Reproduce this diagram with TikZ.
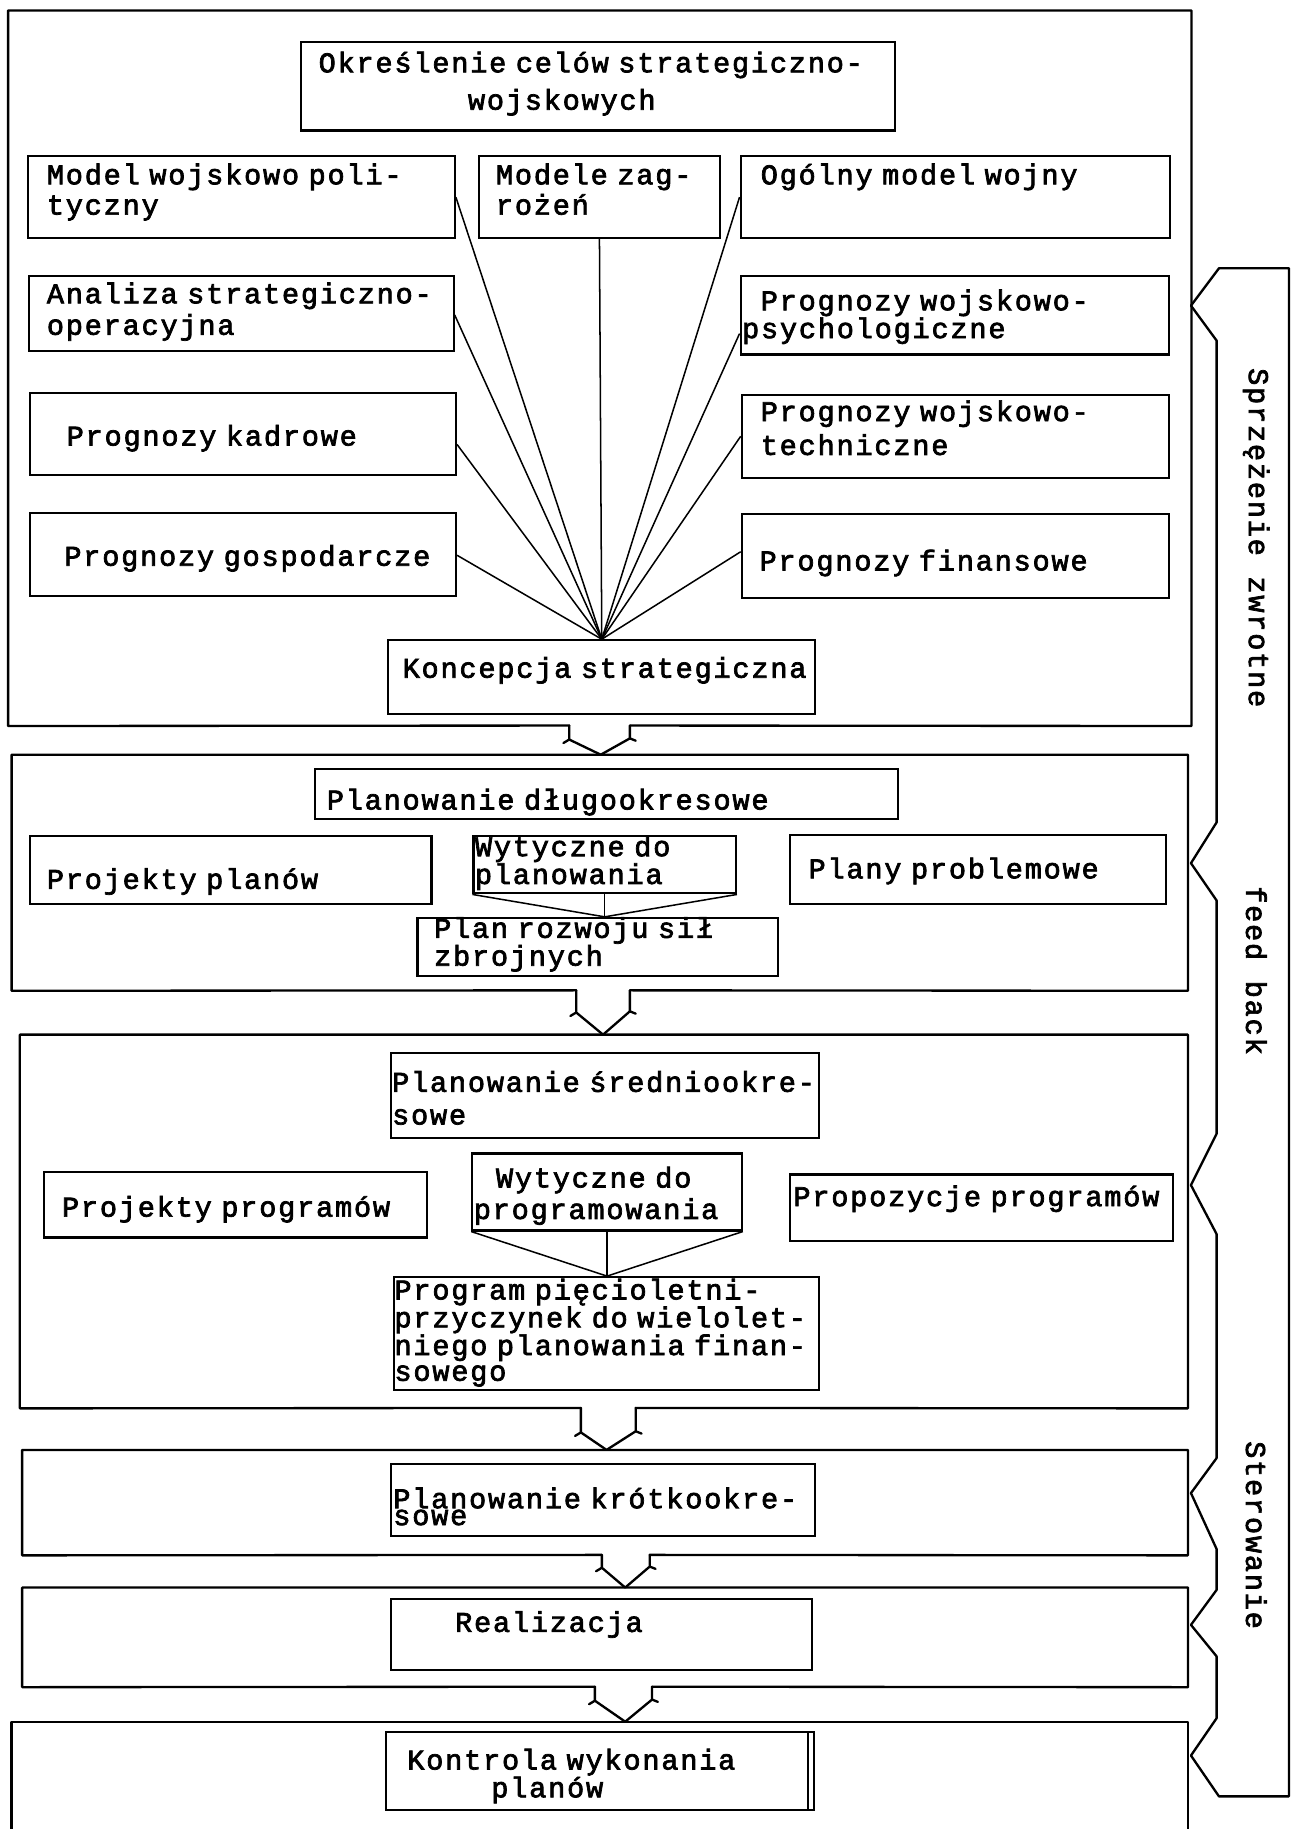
\documentclass[tikz,border=0pt]{standalone}
\usepackage{fontspec}
\newfontfamily\twf{Liberation Mono}[LetterSpace=6.3,FakeBold=2.5]
\newcommand\tw[1]{\fontsize{24.5}{#1}\twf\spaceskip=17.6pt\xspaceskip=17.6pt\relax}
\usetikzlibrary{calc}
\begin{document}
\begin{tikzpicture}[x=1pt,y=-1pt,
  box/.style={draw, line width=1.8pt, inner sep=0pt, anchor=north west},
  sect/.style={draw=none, inner sep=0pt, anchor=north west},
  frame/.style={line width=2pt, line join=round, line cap=round},
  fan/.style={line width=1.3pt},
  txt/.style={inner sep=0pt, anchor=base west, text width=700pt, align=left, font=\tw{28}},
  rot/.style={inner sep=0pt, rotate=-90, font=\tw{28}}]
\useasboundingbox (0,0) rectangle (1110,1568);

% ---------- sections ----------
\node[sect, minimum width=1014pt, minimum height=613pt] (sec1) at (7,9) {};
\node[sect, minimum width=1008pt, minimum height=202pt] (sec2) at (10,647) {};
\node[sect, minimum width=1001pt, minimum height=320pt] (sec3) at (17,887) {};
\node[sect, minimum width=999pt, minimum height=90pt] (sec4) at (19,1243) {};
\node[sect, minimum width=999pt, minimum height=85pt] (sec5) at (19,1361) {};
\node[sect, minimum width=1008pt, minimum height=94pt] (sec6) at (10,1476) {};

% arrow coordinates
\coordinate (a1L) at (488,622); \coordinate (a1R) at (540,622); \coordinate (a1T) at (515,647);
\coordinate (a2L) at (494,849); \coordinate (a2R) at (540,849); \coordinate (a2T) at (517,887);
\coordinate (a3L) at (498,1207); \coordinate (a3R) at (545,1207); \coordinate (a3T) at (520,1243);
\coordinate (a4L) at (516,1333); \coordinate (a4R) at (557,1333); \coordinate (a4T) at (536,1361);
\coordinate (a5L) at (510,1446); \coordinate (a5R) at (559,1446); \coordinate (a5T) at (536,1476);

% frames (bottom opened where the arrow leaves)
\draw[frame] (a1L) -- (sec1.south west) -- (sec1.north west) -- (sec1.north east) -- (sec1.south east) -- (a1R);
\draw[frame] (a2L) -- (sec2.south west) -- (sec2.north west) -- (sec2.north east) -- (sec2.south east) -- (a2R);
\draw[frame] (a3L) -- (sec3.south west) -- (sec3.north west) -- (sec3.north east) -- (sec3.south east) -- (a3R);
\draw[frame] (a4L) -- (sec4.south west) -- (sec4.north west) -- (sec4.north east) -- (sec4.south east) -- (a4R);
\draw[frame] (a5L) -- (sec5.south west) -- (sec5.north west) -- (sec5.north east) -- (sec5.south east) -- (a5R);
\draw[frame] (sec6.south west) -- (sec6.north west) -- (sec6.north east) -- (sec6.south east);

% hollow arrows between the sections
\draw[frame] (a1L) -- ++(0,12) coordinate (a1l) -- ++(-5,3) (a1l) -- (a1T) -- ($(a1R)+(0,11)$) coordinate (a1r) -- (a1R) (a1r) -- ++(5,2);
\draw[frame] (a2L) -- ++(0,19) coordinate (a2l) -- ++(-5,3) (a2l) -- (a2T) -- ($(a2R)+(0,18)$) coordinate (a2r) -- (a2R) (a2r) -- ++(5,2);
\draw[frame] (a3L) -- ++(0,21) coordinate (a3l) -- ++(-5,3) (a3l) -- (a3T) -- ($(a3R)+(0,20)$) coordinate (a3r) -- (a3R) (a3r) -- ++(5,2);
\draw[frame] (a4L) -- ++(0,11) coordinate (a4l) -- ++(-5,3) (a4l) -- (a4T) -- ($(a4R)+(0,10)$) coordinate (a4r) -- (a4R) (a4r) -- ++(5,2);
\draw[frame] (a5L) -- ++(0,12) coordinate (a5l) -- ++(-5,3) (a5l) -- (a5T) -- ($(a5R)+(0,11)$) coordinate (a5r) -- (a5R) (a5r) -- ++(5,2);

% ---------- section 1 ----------
\node[box, minimum width=509pt, minimum height=76pt] (title) at (257,35) {};
\node[txt, font=\tw{32}] (titlet) at (273,62) {Określenie celów strategiczno-\\\hspace*{128pt}wojskowych};

\node[box, minimum width=366pt, minimum height=70pt] (model) at (23,133) {};
\node[txt, font=\tw{26}] (modelt) at (40,158) {Model wojskowo poli-\\tyczny};
\node[box, minimum width=206pt, minimum height=70pt] (modele) at (410,133) {};
\node[txt, font=\tw{26}] (modelet) at (425,158) {Modele zag-\\rożeń};
\node[box, minimum width=368pt, minimum height=70pt] (ogolny) at (634,133) {};
\node[txt] (ogolnyt) at (652,158) {Ogólny model wojny};

\node[box, minimum width=364pt, minimum height=64pt] (analiza) at (24,236) {};
\node[txt, font=\tw{27}] (analizat) at (40,260) {Analiza strategiczno-\\operacyjna};
\node[box, minimum width=367pt, minimum height=67pt] (psych) at (634,236) {};
\node[txt, font=\tw{22}] (psycht) at (636,266) {\hspace*{16pt}Prognozy wojskowo-\\psychologiczne};

\node[box, minimum width=365pt, minimum height=70pt] (kadrowe) at (25,336) {};
\node[txt] (kadrowet) at (57,382) {Prognozy kadrowe};
\node[box, minimum width=366pt, minimum height=71pt] (techn) at (635,338) {};
\node[txt, font=\tw{29}] (techt) at (652,361) {Prognozy wojskowo-\\techniczne};

\node[box, minimum width=365pt, minimum height=71pt] (gosp) at (25,439) {};
\node[txt] (gospt) at (55,485) {Prognozy gospodarcze};
\node[box, minimum width=366pt, minimum height=72pt] (finans) at (635,440) {};
\node[txt] (finanst) at (651,489) {Prognozy finansowe};

\node[box, minimum width=366pt, minimum height=63pt] (konc) at (332,548) {};
\node[txt] (konct) at (345,581) {Koncepcja strategiczna};

\coordinate (fanpt) at (konc.north);
\draw[fan] ($(model.north east)+(0,36)$) -- (fanpt);
\draw[fan] (modele.south) -- (fanpt);
\draw[fan] ($(ogolny.north west)+(0,36)$) -- (fanpt);
\draw[fan] ($(analiza.north east)+(0,34)$) -- (fanpt);
\draw[fan] ($(psych.north west)+(0,50)$) -- (fanpt);
\draw[fan] ($(kadrowe.north east)+(0,45)$) -- (fanpt);
\draw[fan] ($(techn.north west)+(0,36)$) -- (fanpt);
\draw[fan] ($(gosp.north east)+(0,37)$) -- (fanpt);
\draw[fan] ($(finans.north west)+(0,33)$) -- (fanpt);

% ---------- section 2 ----------
\node[box, minimum width=500pt, minimum height=43pt] (dlugo) at (269,658) {};
\node[txt] (dlugot) at (280,694) {Planowanie długookresowe};
\node[box, minimum width=344pt, minimum height=58pt] (projpl) at (25,716) {};
\node[txt] (projplt) at (40,762) {Projekty planów};
\node[box, minimum width=225pt, minimum height=49pt] (wyt1) at (405,716) {};
\node[txt, font=\tw{17}] (wyt1t) at (407,734) {Wytyczne do\\planowania};
\node[box, minimum width=323pt, minimum height=59pt] (plany) at (676,715) {};
\node[txt] (planyt) at (693,753) {Plany problemowe};
\node[box, minimum width=309pt, minimum height=50pt] (planr) at (357,786) {};
\node[txt, font=\tw{22}] (planrt) at (372,804) {Plan rozwoju sił\\zbrojnych};
\coordinate (planrin) at (wyt1.south |- planr.north);
\draw[fan] (wyt1.south west) -- (planrin);
\draw[fan] (wyt1.south) -- (planrin);
\draw[fan] (wyt1.south east) -- (planrin);

% ---------- section 3 ----------
\node[box, minimum width=367pt, minimum height=73pt] (sredni) at (334,902) {};
\node[txt, font=\tw{28}] (srednit) at (336,936) {Planowanie średniookre-\\sowe};
\node[box, minimum width=328pt, minimum height=56pt] (projpr) at (37,1004) {};
\node[txt] (projprt) at (53,1043) {Projekty programów};
\node[box, minimum width=231pt, minimum height=66pt] (wyt2) at (404,988) {};
\node[txt, font=\tw{27}] (wyt2t) at (406,1018) {\hspace*{19pt}Wytyczne do\\programowania};
\node[box, minimum width=329pt, minimum height=57pt] (propoz) at (676,1006) {};
\node[txt] (propozt) at (680,1034) {Propozycje programów};
\node[box, minimum width=364pt, minimum height=97pt] (program) at (337,1094) {};
\node[txt, font=\tw{22}] (programt) at (338,1114) {Program pięcioletni-\\przyczynek do wielolet-\\niego planowania finan-\\sowego};
\coordinate (programin) at (wyt2.south |- program.north);
\draw[fan] (wyt2.south west) -- (programin);
\draw[fan] (wyt2.south) -- (programin);
\draw[fan] (wyt2.south east) -- (programin);

% ---------- sections 4-6 ----------
\node[box, minimum width=364pt, minimum height=62pt] (krotko) at (334,1254) {};
\node[txt, font=\tw{13}] (krotkot) at (337,1293) {Planowanie krótkookre-\\sowe};
\node[box, minimum width=361pt, minimum height=61pt] (realiz) at (334,1370) {};
\node[txt] (realizt) at (390,1399) {Realizacja};
\node[box, minimum width=367pt, minimum height=67pt] (kontrola) at (330,1484) {};
\node[txt, font=\tw{16}] (kontrolat) at (349,1517) {Kontrola wykonania\\\hspace*{72pt}planów};
\draw[line width=1.5pt] ($(kontrola.north east)+(-6,0)$) -- ($(kontrola.south east)+(-6,0)$);

% ---------- feedback bracket ----------
\draw[frame] (1105,1540) -- (1105,230) -- (1045,230) -- (1021,262) -- (1043,292)
  -- (1043,705) -- (1021,740) -- (1043,772)
  -- (1043,972) -- (1021,1016) -- (1043,1058)
  -- (1043,1250) -- (1021,1280) -- (1043,1328)
  -- (1043,1363) -- (1021,1393) -- (1043,1420)
  -- (1043,1473) -- (1021,1505) -- (1045,1540) -- (1105,1540);
\node[rot] (lab1) at (1077,461) {Sprzężenie zwrotne};
\node[rot] (lab2) at (1077,832) {feed back};
\node[rot] (lab3) at (1077,1316) {Sterowanie};
\end{tikzpicture}
\end{document}
